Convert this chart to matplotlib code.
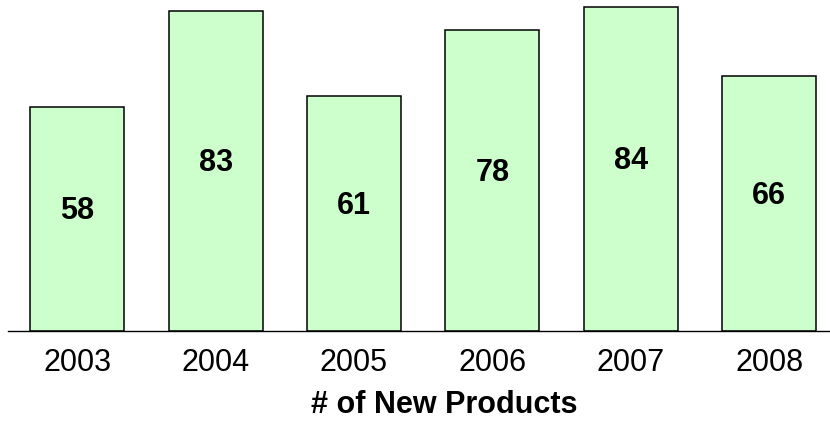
import matplotlib
matplotlib.use("Agg")
import matplotlib.pyplot as plt

# datos del grafico
years = ["2003", "2004", "2005", "2006", "2007", "2008"]
products = [58, 83, 61, 78, 84, 66]

plt.rcParams['font.family'] = ['Liberation Sans', 'DejaVu Sans']

fig = plt.figure(figsize=(8.3, 4.22), dpi=100)
ax = fig.add_axes([0.0096, 0.2156, 1.0005, 0.7844])

x = range(len(years))
ax.bar(x, products, width=0.68, color='#CCFFCC', edgecolor='black', linewidth=1.1)

# etiquetas dentro de las barras
for i, v in zip(x, products):
    ax.text(i, v / 2 + 2, str(v), ha='center', va='center', fontsize=22, fontweight='bold')

ax.set_xlim(-0.5, 5.5)
ax.set_ylim(0, 85.75)
ax.set_xticks(list(x))
ax.set_xticklabels(years, fontsize=22)
ax.tick_params(axis='x', length=0, pad=12)
ax.set_yticks([])
for s in ['top', 'right', 'left']:
    ax.spines[s].set_visible(False)
ax.spines['bottom'].set_linewidth(1.0)

fig.text(0.5355, 0.022, '# of New Products', ha='center', va='baseline', fontsize=22, fontweight='bold')

fig.savefig('out.png', dpi=100)
